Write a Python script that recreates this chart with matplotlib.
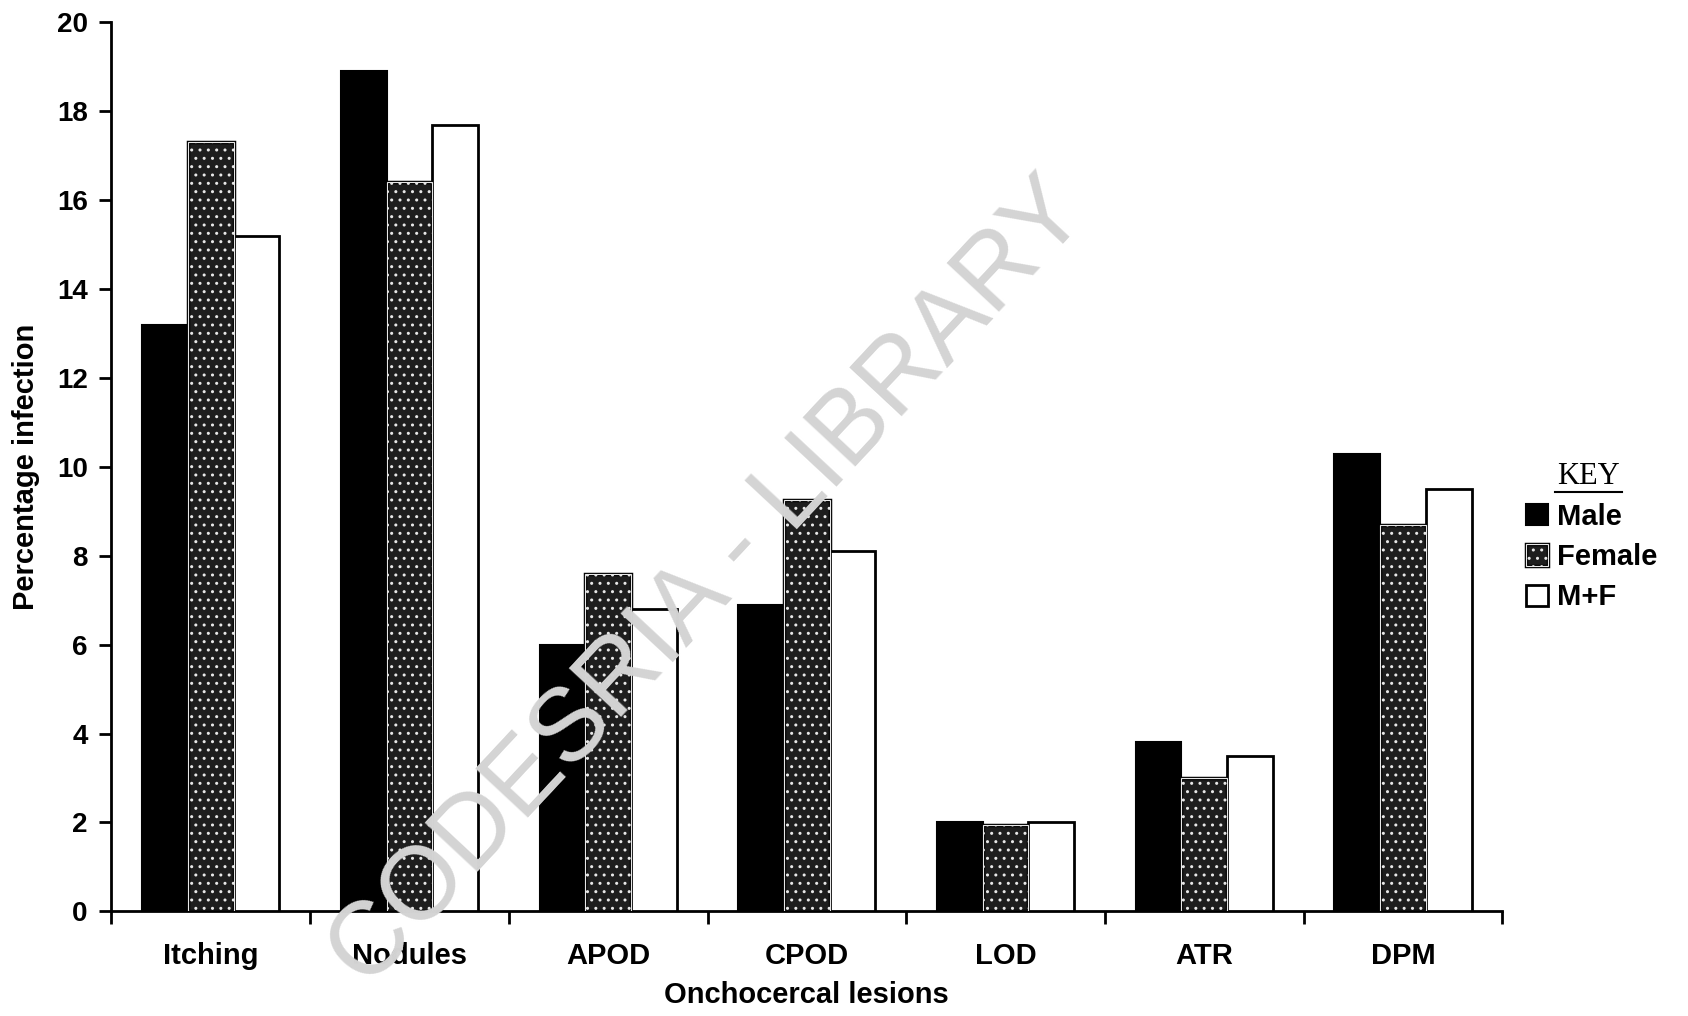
import numpy as np
import matplotlib
matplotlib.use("Agg")
import matplotlib.pyplot as plt
from matplotlib.lines import Line2D

categories = ["Itching", "Nodules", "APOD", "CPOD", "LOD", "ATR", "DPM"]
male = [13.2, 18.9, 6.0, 6.9, 2.0, 3.8, 10.3]
female = [17.3, 16.4, 7.6, 9.25, 1.95, 3.0, 8.7]
m_plus_f = [15.2, 17.7, 6.8, 8.1, 2.0, 3.5, 9.5]
yticks = [0, 2, 4, 6, 8, 10, 12, 14, 16, 18, 20]

plt.rcParams["font.family"] = ["Liberation Sans", "DejaVu Sans"]
plt.rcParams["hatch.color"] = "#5a5a5a"

fig = plt.figure(figsize=(16.88, 10.16), dpi=100)
ax = fig.add_axes([0.066, 0.103, 0.824, 0.875])
ax.patch.set_alpha(0)

x = np.arange(len(categories))
w = 0.23
hm = ax.bar(x - w, male, w, color="black", edgecolor="black", linewidth=1.5,
            zorder=3)
hf1 = ax.bar(x, female, w, color="#1e1e1e", edgecolor="black", linewidth=2.5,
             zorder=3)
hf2 = ax.bar(x, female, w, color="none", edgecolor="#e8e8e8", linewidth=0.8,
             hatch="..", zorder=4)
hmf = ax.bar(x + w, m_plus_f, w, color="white", edgecolor="black", linewidth=2,
             zorder=3)

ax.set_xlim(-0.5, len(categories) - 0.5)
ax.set_ylim(0, 20)
ax.set_yticks(yticks)
ax.set_yticklabels([str(v) for v in yticks], fontsize=20, fontweight="bold")
ax.set_xticks(x)
ax.set_xticklabels(categories, fontsize=21, fontweight="bold")
ax.tick_params(axis="x", which="major", length=0, pad=22)
ax.set_xticks(np.arange(len(categories) + 1) - 0.5, minor=True)
ax.tick_params(axis="x", which="minor", length=9, width=2, direction="out")
ax.tick_params(axis="y", length=9, width=2, direction="out", pad=8)

for s in ["top", "right"]:
    ax.spines[s].set_visible(False)
for s in ["left", "bottom"]:
    ax.spines[s].set_linewidth(2)

ax.set_ylabel("Percentage infection", fontsize=21, fontweight="bold", labelpad=12)
ax.set_xlabel("Onchocercal lesions", fontsize=21, fontweight="bold", labelpad=8)

# watermark, behind the axes content
fig.text(0.42, 0.425, "CODESRIA - LIBRARY", fontsize=74, color="#d4d4d4",
         rotation=47, ha="center", va="center", zorder=0)

# key
fig.text(0.941, 0.531, "KEY", fontsize=22, family="Liberation Serif",
         ha="center", va="center")
fig.add_artist(Line2D([0.921, 0.961], [0.516, 0.516], color="black", lw=1.5))

leg = fig.legend([hm[0], (hf1[0], hf2[0]), hmf[0]], ["Male", "Female", "M+F"],
                 loc="upper left", bbox_to_anchor=(0.904, 0.505),
                 frameon=False, prop={"size": 21, "weight": "bold"},
                 handlelength=0.75, handleheight=0.75, handletextpad=0.3,
                 labelspacing=0.42, borderaxespad=0, borderpad=0)

fig.savefig("out.png", dpi=100)
